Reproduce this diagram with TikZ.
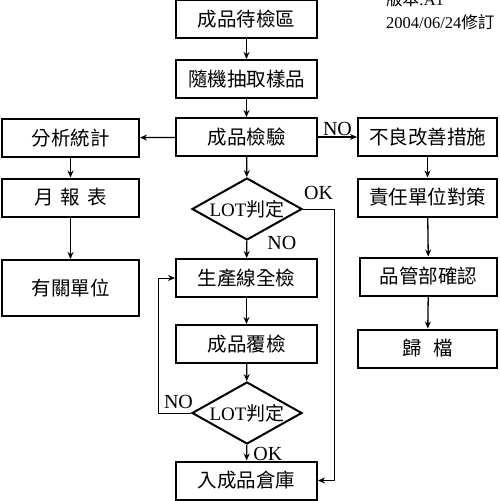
\documentclass[tikz,border=0pt]{standalone}
\usepackage{fontspec}
\setmainfont{Liberation Serif}
\newfontfamily\cjk{Noto Sans CJK TC}
\usetikzlibrary{shapes.geometric,arrows.meta,positioning}

\begin{document}
\begin{tikzpicture}[x=1pt,y=-1pt,
    box/.style={rectangle,draw,line width=2pt,font=\cjk\fontsize{19.5}{21}\selectfont,
                minimum width=141pt,minimum height=38pt,inner sep=0pt},
    dec/.style={diamond,draw,line width=2pt,aspect=1.75,inner sep=0pt,
                minimum width=110pt,minimum height=62pt,font=\fontsize{19}{21}\selectfont},
    arr/.style={-{Stealth[length=7pt,width=6pt]},line width=1.3pt},
    thin/.style={-{Stealth[length=7pt,width=6pt]},line width=0.8pt},
    lbl/.style={font=\fontsize{20}{22}\selectfont,inner sep=1pt},
    note/.style={font=\fontsize{16.5}{18}\selectfont,inner sep=0pt,anchor=base west}]
  \useasboundingbox (0,0) rectangle (500,501);

  % middle column
  \node[box] (wait)    at (246.5,19)  {成品待檢區};
  \node[box] (sample)  at (246.5,79)  {隨機抽取樣品};
  \node[box] (insp)    at (246.5,137) {成品檢驗};
  \node[dec] (lot1)    at (247,209)   {LOT{\cjk 判定}};
  \node[box] (line)    at (246.5,278) {生產線全檢};
  \node[box] (recheck) at (246.5,344) {成品覆檢};
  \node[dec] (lot2)    at (247,413)   {LOT{\cjk 判定}};
  \node[box] (store)   at (246.5,480.5) {入成品倉庫};

  % left column
  \node[box,minimum width=137pt] (stat)  at (70.5,138)   {分析統計};
  \node[box,minimum width=137pt] (month) at (70.5,197.5) {月\hspace{7pt}報\hspace{7pt}表};
  \node[box,minimum width=137pt,minimum height=56pt] (units) at (70.5,288) {有關單位};

  % right column
  \node[box,minimum width=139pt] (fix)  at (427.5,137)   {不良改善措施};
  \node[box,minimum width=139pt] (duty) at (427.5,197.5) {責任單位對策};
  \node[box,minimum width=137pt] (qc)   at (428.5,276.5) {品管部確認};
  \node[box,minimum width=139pt] (file) at (427.5,348.5) {歸\hspace{11pt}檔};

  % version note
  \node[note] (ver)  at (386,5)  {{\cjk 版本}:A1};
  \node[note] (date) at (386,28) {2004/06/24{\cjk 修訂}};

  \draw[arr] (wait) -- (sample);
  \draw[arr] (sample) -- (insp);
  \draw[arr] (insp) -- (stat);
  \draw[arr] (insp) -- (fix)     node[lbl,above,midway]{NO};
  \draw[arr] (insp) -- (lot1);
  \draw[arr] (lot1) -- (line)    node[lbl,right,pos=0.1,xshift=19pt]{NO};
  \draw[arr] (line) -- (recheck);
  \draw[arr] (recheck) -- (lot2);
  \draw[arr] (lot2) -- (store)   node[lbl,right,pos=0.6,xshift=5pt]{OK};

  \draw[arr] (stat) -- (month);
  \draw[arr] (month) -- (units);
  \draw[arr] (fix) -- (duty);
  \draw[arr] (duty) -- (qc);
  \draw[arr] (qc) -- (file);

  \coordinate (okturn) at (334,209);
  \draw[thin] (lot1.east) -- (okturn) |- (store.east);
  \node[lbl,above right,yshift=8pt] (oklbl) at (lot1.east) {OK};
  \coordinate (noturn) at (158,413);
  \draw[thin] (lot2.west) -- (noturn) node[lbl,above,midway,xshift=4pt,yshift=3pt]{NO} |- (line.west);
\end{tikzpicture}
\end{document}
